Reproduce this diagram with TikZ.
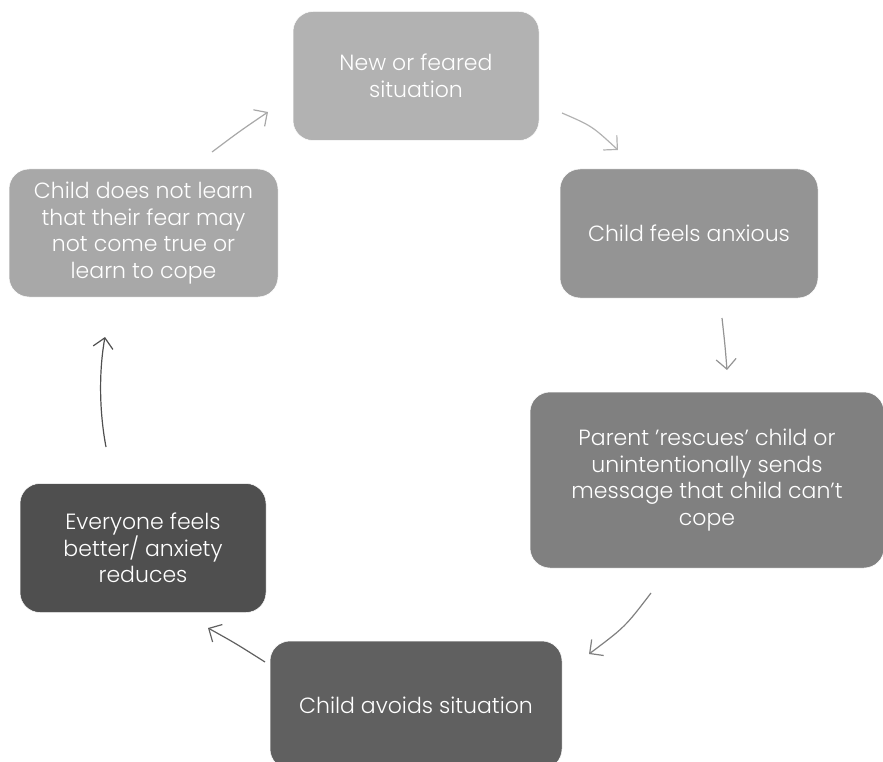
\documentclass[tikz,border=0pt]{standalone}
\usepackage{fontspec}
\setmainfont{Poppins}[UprightFont={* Light}]
\usetikzlibrary{arrows.meta}
\definecolor{cA}{HTML}{B2B2B2}
\definecolor{cB}{HTML}{949494}
\definecolor{cC}{HTML}{808080}
\definecolor{cD}{HTML}{606060}
\definecolor{cE}{HTML}{4F4F4F}
\definecolor{cF}{HTML}{A8A8A8}
\newcommand{\sq}{{\char"27}}
\begin{document}
\begin{tikzpicture}[x=1pt,y=-1pt,
  box/.style={rounded corners=20pt, text=white, align=center,
    font=\fontsize{22}{26.5}\selectfont, inner sep=0pt, draw=white, line width=0.5pt},
  conn/.style={line width=1.2pt, -{Straight Barb[length=10pt,width=20pt]}}]
\useasboundingbox (0,0) rectangle (883,762);
\clip (0,0) rectangle (883,762);
\node[box, fill=cA, minimum width=246pt, minimum height=129pt] (n1) at (416,76) {New or feared\\situation};
\node[box, fill=cB, minimum width=258pt, minimum height=129pt] (n2) at (689,233.5) {Child feels anxious};
\node[box, fill=cC, minimum width=354pt, minimum height=176pt] (n3) at (707,480) {Parent \sq rescues\sq{} child or\\unintentionally sends\\message that child can\sq t\\cope};
\node[box, fill=cD, minimum width=292pt, minimum height=128pt] (n4) at (416,705) {Child avoids situation};
\node[box, fill=cE, minimum width=246pt, minimum height=129pt] (n5) at (143,548) {Everyone feels\\better/ anxiety\\reduces};
\node[box, fill=cF, minimum width=269pt, minimum height=128pt] (n6) at (143.5,233) {Child does not learn\\that their fear may\\not come true or\\learn to cope};

\coordinate (a1s) at (562,113); \coordinate (a1e) at (618,150);
\coordinate (a2s) at (722,318); \coordinate (a2e) at (727,370);
\coordinate (a3s) at (651,593); \coordinate (a3e) at (589,654);
\coordinate (a4s) at (265,662); \coordinate (a4e) at (208,628);
\coordinate (a5s) at (106,447); \coordinate (a5e) at (105,337);
\coordinate (a6s) at (212,152); \coordinate (a6e) at (268,112);

\draw[conn, draw=cA] (a1s) .. controls (592,126) .. (a1e);
\draw[conn, draw=cB] (a2s) .. controls (725,345) .. (a2e);
\draw[conn, draw=cC] (a3s) .. controls (625,627) .. (a3e);
\draw[conn, draw=cD] (a4s) .. controls (235,643) .. (a4e);
\draw[conn, draw=cE] (a5s) .. controls (99,410) and (99,370) .. (a5e);
\draw[conn, draw=cF] (a6s) .. controls (240,131) .. (a6e);
\end{tikzpicture}
\end{document}
